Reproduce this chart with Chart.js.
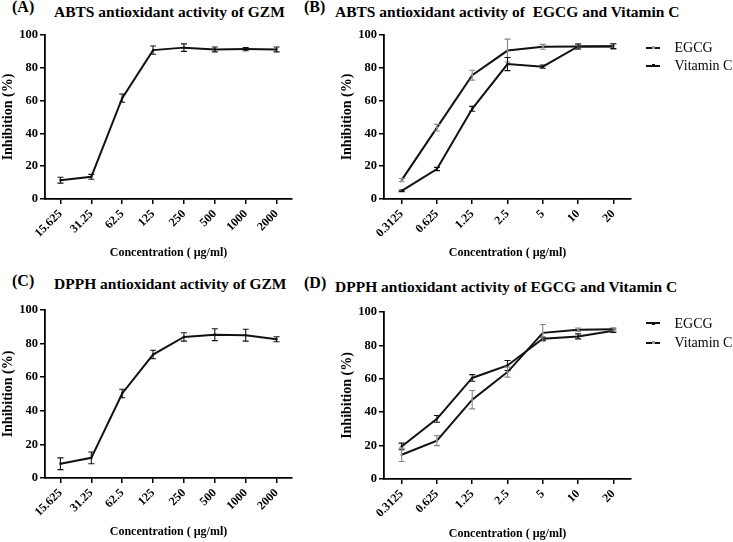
<!DOCTYPE html>
<html><head><meta charset="utf-8">
<script src="https://cdn.jsdelivr.net/npm/chart.js@4.4.1/dist/chart.umd.min.js"></script>
<style>
body{margin:0;width:733px;height:542px;position:relative;background:#fff;overflow:hidden;font-family:"Liberation Serif","Times New Roman",Times,serif;}
canvas{position:absolute;}
.t{position:absolute;font-weight:bold;line-height:1;white-space:pre;color:#000;}
.lab{font-size:16px}.ttl{font-size:15.5px}
.lg{position:absolute;font-size:14px;line-height:1;white-space:pre;color:#000;}
.ls{position:absolute;height:2px;width:14px;background:#111;}
.lm{position:absolute;width:3px;height:3px;}
</style></head><body>
<div class="t lab" style="left:12px;top:-1.4px">(A)</div>
<div class="t ttl" style="left:54px;top:3.7px">ABTS antioxidant activity of GZM</div>
<div class="t lab" style="left:304px;top:-1.4px">(B)</div>
<div class="t ttl" style="left:335px;top:3.7px">ABTS antioxidant activity of  EGCG and Vitamin C</div>
<div class="t lab" style="left:12px;top:273px">(C)</div>
<div class="t ttl" style="left:54px;top:276.3px">DPPH antioxidant activity of GZM</div>
<div class="t lab" style="left:304px;top:274.6px">(D)</div>
<div class="t ttl" style="left:335px;top:278.7px">DPPH antioxidant activity of EGCG and Vitamin C</div>

<canvas id="cA" width="300" height="249" style="left:0;top:22px"></canvas>
<canvas id="cB" width="394" height="249" style="left:339px;top:22px"></canvas>
<canvas id="cC" width="300" height="249" style="left:0;top:293px"></canvas>
<canvas id="cD" width="394" height="249" style="left:339px;top:293px"></canvas>

<div id="legB"></div><div id="legD"></div>

<script>
// ---- data ----
const gzmConc = ['15.625','31.25','62.5','125','250','500','1000','2000'];
const stdConc = ['0.3125','0.625','1.25','2.5','5','10','20'];
const yTicks = [0,20,40,60,80,100];

const abtsGzm    = [11.5, 13.5, 61.5, 90.8, 92.3, 91.2, 91.4, 91.2];
const abtsGzmErr = [1.8, 1.5, 2.5, 2.5, 2.3, 1.5, 1.0, 1.5];

const abtsEgcg    = [11.5, 43.5, 75.5, 90.5, 92.8, 93.0, 93.0];
const abtsEgcgErr = [1.0, 2.0, 3.0, 7.0, 1.5, 1.5, 1.5];
const abtsVitC    = [5.0, 18.3, 55.0, 82.3, 80.7, 93.0, 93.2];
const abtsVitCErr = [0.5, 1.0, 1.5, 4.0, 1.0, 1.5, 1.5];

const dpphGzm    = [8.5, 12.0, 50.3, 73.5, 84.0, 85.3, 85.0, 82.6];
const dpphGzmErr = [3.5, 3.5, 2.5, 2.5, 2.5, 3.5, 3.5, 1.5];

const dpphEgcg    = [19.5, 36.0, 60.5, 68.0, 84.0, 85.4, 88.8];
const dpphEgcgErr = [2.0, 2.0, 2.0, 3.0, 1.0, 1.5, 1.0];
const dpphVitC    = [14.5, 23.0, 47.5, 64.0, 87.5, 89.4, 89.6];
const dpphVitCErr = [4.0, 3.0, 5.5, 3.0, 5.0, 1.0, 1.0];

const legendNames = ['EGCG','Vitamin C'];

// ---- drawing ----
const FONT = '"Liberation Serif","Times New Roman",Times,serif';
const errorBarPlugin = {
  id: 'errorBars',
  afterDatasetsDraw(chart) {
    const ctx = chart.ctx, ys = chart.scales.y;
    chart.data.datasets.forEach((ds, di) => {
      if (!ds.errors) return;
      const meta = chart.getDatasetMeta(di);
      ctx.save();
      ctx.strokeStyle = ds.errorColor; ctx.lineWidth = 1.1;
      meta.data.forEach((pt, i) => {
        const v = ds.data[i], e = ds.errors[i];
        const yt = ys.getPixelForValue(v + e), yb = ys.getPixelForValue(v - e);
        ctx.beginPath();
        ctx.moveTo(pt.x, yt); ctx.lineTo(pt.x, yb);
        ctx.moveTo(pt.x - 3, yt); ctx.lineTo(pt.x + 3, yt);
        ctx.moveTo(pt.x - 3, yb); ctx.lineTo(pt.x + 3, yb);
        ctx.stroke();
      });
      ctx.restore();
    });
  }
};

function ds(label, data, errors, errorColor) {
  return { label, data, errors, errorColor,
    borderColor: '#111', backgroundColor: errorColor, borderWidth: 2,
    pointRadius: 1.5, pointStyle: 'rect', pointBorderWidth: 0, tension: 0 };
}

function makeChart(id, labels, datasets, g) {
  new Chart(document.getElementById(id), {
    type: 'line',
    data: { labels, datasets },
    plugins: [errorBarPlugin],
    options: {
      responsive: false, animation: false, devicePixelRatio: 1,
      layout: { padding: { top: g.pt, right: g.pr, bottom: g.pb, left: 0 } },
      plugins: { legend: { display: false }, tooltip: { enabled: false } },
      scales: {
        x: {
          type: 'category', offset: true,
          border: { display: true, color: '#000', width: 1.8 },
          grid: { display: true, drawOnChartArea: false, drawTicks: true, tickLength: 5, color: '#000', lineWidth: 1.5, offset: false },
          ticks: { autoSkip: false, minRotation: 45, maxRotation: 45, padding: 3, color: '#000', font: { family: FONT, size: 12, weight: 'bold' } },
          title: { display: true, text: 'Concentration ( \u00b5g/ml)', color: '#000', padding: { top: 0, bottom: g.tb }, font: { family: FONT, size: 12, weight: 'bold' } },
          afterFit: s => { s.height = g.xh; }
        },
        y: {
          min: 0, max: 100,
          afterBuildTicks: s => { s.ticks = yTicks.map(v => ({ value: v })); },
          border: { display: true, color: '#000', width: 1.8 },
          grid: { display: true, drawOnChartArea: false, drawTicks: true, tickLength: 5, color: '#000', lineWidth: 1.5 },
          ticks: { padding: 2, color: '#000', font: { family: FONT, size: 12.5, weight: 'bold' } },
          title: { display: true, text: 'Inhibition (%)', color: '#000', padding: { top: 0, bottom: 0 }, font: { family: FONT, size: 14, weight: 'bold' } },
          afterFit: s => { s.width = 45; }
        }
      }
    }
  });
}

makeChart('cA', gzmConc, [ds('GZM', abtsGzm, abtsGzmErr, '#111')],
  { pt: 13, pr: 8, pb: 7, tb: 4, xh: 65 });
makeChart('cB', stdConc, [
    ds(legendNames[0], abtsEgcg, abtsEgcgErr, '#888'),
    ds(legendNames[1], abtsVitC, abtsVitCErr, '#111')],
  { pt: 13, pr: 102, pb: 7, tb: 4, xh: 65 });
makeChart('cC', gzmConc, [ds('GZM', dpphGzm, dpphGzmErr, '#111')],
  { pt: 17, pr: 8, pb: 0, tb: 3, xh: 64 });
makeChart('cD', stdConc, [
    ds(legendNames[0], dpphEgcg, dpphEgcgErr, '#111'),
    ds(legendNames[1], dpphVitC, dpphVitCErr, '#888')],
  { pt: 19, pr: 102, pb: 0, tb: 1, xh: 63 });

// legends (HTML text)
function legend(el, items) {
  const host = document.getElementById(el);
  items.forEach(it => {
    const s = document.createElement('div'); s.className = 'ls';
    s.style.left = '646px'; s.style.top = (it.ly - 1) + 'px'; host.appendChild(s);
    const m = document.createElement('div'); m.className = 'lm';
    m.style.left = '651.5px'; m.style.top = (it.ly - 1.5) + 'px'; m.style.background = it.mc; host.appendChild(m);
    const t = document.createElement('div'); t.className = 'lg';
    t.style.left = '674.5px'; t.style.top = it.ty + 'px'; t.textContent = it.name; host.appendChild(t);
  });
}
legend('legB', [
  { name: legendNames[0], ly: 47.7, ty: 40.6, mc: '#999' },
  { name: legendNames[1], ly: 65.7, ty: 59.3, mc: '#111' }]);
legend('legD', [
  { name: legendNames[0], ly: 323.3, ty: 316.6, mc: '#111' },
  { name: legendNames[1], ly: 342.7, ty: 336, mc: '#999' }]);
</script>
</body></html>
